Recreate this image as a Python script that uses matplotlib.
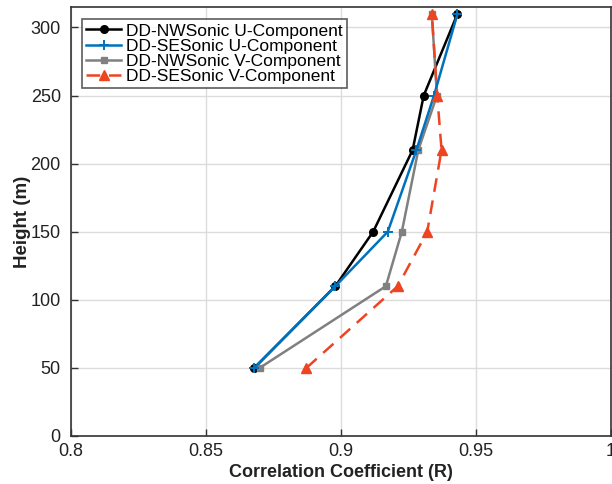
import matplotlib
matplotlib.use("Agg")
import matplotlib.pyplot as plt

plt.rcParams['font.family'] = ['Liberation Sans', 'DejaVu Sans']

# Measurement heights (m)
heights = [50, 110, 150, 210, 250, 310]

# Correlation coefficients per sonic / component
nw_u = [0.868, 0.898, 0.912, 0.9266, 0.9307, 0.9432]
se_u = [0.868, 0.898, 0.9174, 0.928, 0.9345, 0.9432]
nw_v = [0.870, 0.9167, 0.9226, 0.9287, 0.9356, 0.9337]
se_v = [0.8873, 0.9211, 0.932, 0.9373, 0.9357, 0.9337]

labels = ["DD-NWSonic U-Component", "DD-SESonic U-Component",
          "DD-NWSonic V-Component", "DD-SESonic V-Component"]

xticks = [0.8, 0.85, 0.9, 0.95, 1.0]
xticklabels = ["0.8", "0.85", "0.9", "0.95", "1"]
yticks = [0, 50, 100, 150, 200, 250, 300]

fig = plt.figure(figsize=(6.12, 4.84), dpi=100)
ax = fig.add_axes([70.5 / 612, 48 / 484, 540.5 / 612, 429 / 484])

ax.plot(nw_u, heights, color="#000000", lw=1.8, marker="o", ms=5.5,
        label=labels[0], zorder=3)
ax.plot(se_u, heights, color="#0072BD", lw=1.8, marker="+", ms=7, mew=1.4,
        label=labels[1], zorder=4)
ax.plot(nw_v, heights, color="#808080", lw=1.8, marker="s", ms=5,
        label=labels[2], zorder=3)
ax.plot(se_v, heights, color="#EE4422", lw=1.8, ls=(0, (5.5, 3.5)), marker="^",
        ms=6.5, label=labels[3], zorder=5)

ax.set_xlim(0.8, 1.0)
ax.set_ylim(0, 315)
ax.set_xticks(xticks)
ax.set_xticklabels(xticklabels)
ax.set_yticks(yticks)

ax.grid(True, color="#dcdcdc", lw=1.0)
ax.set_axisbelow(True)
ax.tick_params(direction="in", length=5, width=1, colors="#333333",
               labelsize=13, labelcolor="#222222")
ax.tick_params(axis="x", pad=5)
ax.tick_params(axis="y", pad=7)
for sp in ax.spines.values():
    sp.set_color("#333333")
    sp.set_linewidth(1.2)

ax.set_xlabel("Correlation Coefficient (R)", fontsize=13, fontweight="bold",
              color="#222222", labelpad=3)
ax.set_ylabel("Height (m)", fontsize=13.5, fontweight="bold", color="#222222",
              labelpad=0)

leg = ax.legend(loc="upper left", bbox_to_anchor=(0.021, 0.972), fontsize=12.5,
                frameon=True, fancybox=False, edgecolor="#333333",
                borderaxespad=0, borderpad=0.25, labelspacing=0.0,
                handlelength=2.0, handletextpad=0.3)
leg.get_frame().set_linewidth(1.2)

fig.savefig("out.png", dpi=100)
